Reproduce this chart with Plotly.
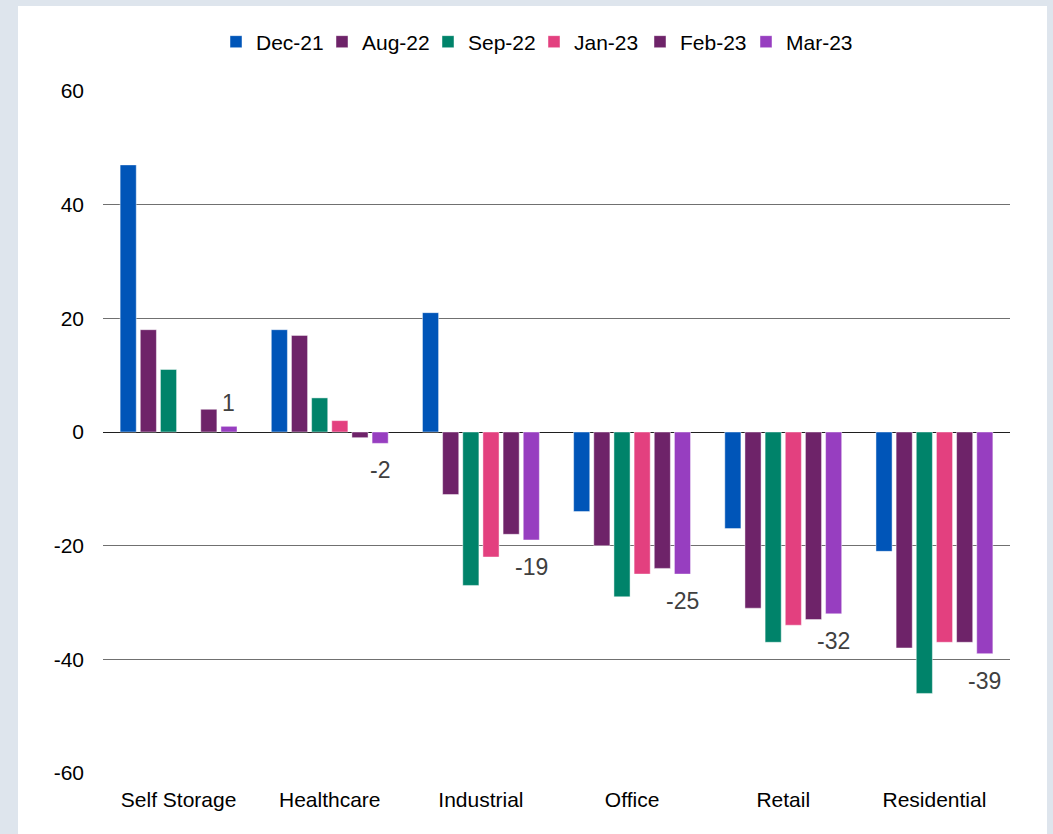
import plotly.graph_objects as go

categories = ["Self Storage", "Healthcare", "Industrial", "Office", "Retail", "Residential"]
series_names = ["Dec-21", "Aug-22", "Sep-22", "Jan-23", "Feb-23", "Mar-23"]
dec21 = [47, 18, 21, -14, -17, -21]
aug22 = [18, 17, -11, -20, -31, -38]
sep22 = [11, 6, -27, -29, -37, -46]
jan23 = [None, 2, -22, -25, -34, -37]
feb23 = [4, -1, -18, -24, -33, -37]
mar23 = [1, -2, -19, -25, -32, -39]
series_values = [dec21, aug22, sep22, jan23, feb23, mar23]
colors = ["#0055B8", "#6E2369", "#00836A", "#E3407F", "#6E2369", "#973EC0"]
labelled_series = 5  # Mar-23 has data labels
y_ticks = [-60, -40, -20, 0, 20, 40, 60]
y_tick_text = ["-60", "-40", "-20", "0", "20", "40", "60"]

FONT = "Liberation Sans, Arial, sans-serif"
BARGAP = 0.2
BARGROUPGAP = 0.2

fig = go.Figure()
for name, vals, col in zip(series_names, series_values, colors):
    fig.add_trace(go.Bar(
        name=name, x=categories, y=vals,
        marker=dict(color=col, line=dict(color="rgba(255,255,255,0.45)", width=1)),
    ))

# data labels for Mar-23 at the end of each bar
n = len(series_names)
group_w = 1 - BARGAP
offset = -group_w / 2 + (labelled_series + 0.5) * group_w / n
for i, v in enumerate(series_values[labelled_series]):
    pos = v >= 0
    fig.add_annotation(
        x=i + offset, y=v, xref="x", yref="y", text=str(v), showarrow=False,
        yanchor="bottom" if pos else "top", yshift=8 if pos else -12,
        font=dict(family=FONT, size=23, color="#404040"),
    )

# background frame and white panel
W, H = 1053, 834
ml, mr, mt, mb = 103, 43, 91, 61
pw, ph = W - ml - mr, H - mt - mb
def px_x(p):
    return (p - ml) / pw
def px_y(p):
    return (H - mb - p) / ph
fig.add_shape(type="rect", xref="paper", yref="paper", layer="below",
              x0=px_x(18), x1=px_x(1047), y0=px_y(840), y1=px_y(6),
              fillcolor="white", line=dict(width=0))

fig.update_layout(
    width=W, height=H,
    margin=dict(l=ml, r=mr, t=mt, b=mb),
    paper_bgcolor="#DEE5ED", plot_bgcolor="white",
    barmode="group", bargap=BARGAP, bargroupgap=BARGROUPGAP,
    font=dict(family=FONT, size=21, color="#000000"),
    showlegend=True,
    legend=dict(orientation="h", x=px_x(534), xanchor="center", y=px_y(42), yanchor="middle",
                font=dict(family=FONT, size=21, color="#000000"),
                entrywidth=61, entrywidthmode="pixels",
                bgcolor="rgba(0,0,0,0)", itemclick=False, traceorder="normal"),
    xaxis=dict(showgrid=False, showline=False, ticks="", tickfont=dict(size=21),
               ticklabelstandoff=12),
    yaxis=dict(range=[-60, 60], tickvals=y_ticks, ticktext=y_tick_text,
               showgrid=True, gridcolor="#707070",
               gridwidth=1, zeroline=True, zerolinecolor="#1f1f1f", zerolinewidth=1,
               showline=False, ticks="", tickfont=dict(size=21), ticklabelstandoff=18),
)

fig.write_html("out.html")
